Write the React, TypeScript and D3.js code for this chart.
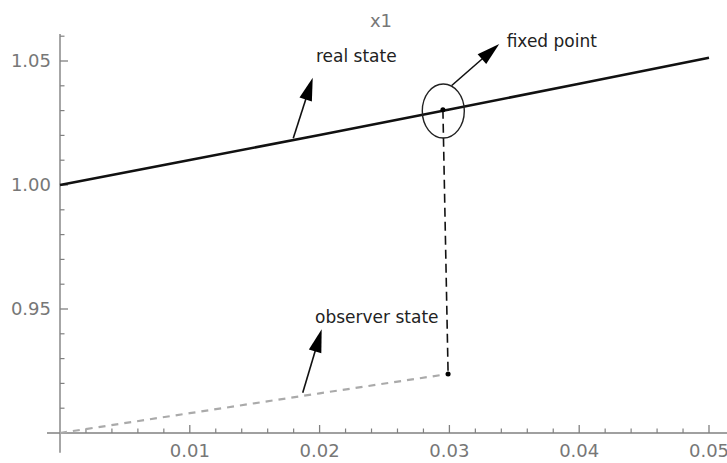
import React from 'react';
import * as d3 from 'd3';

// real state x1(t) and observer state
const realT = [0, 0.01, 0.02, 0.03, 0.04, 0.05];
const realX = [1.0, 1.01005, 1.0202, 1.03045, 1.04081, 1.05127];
const obsT = [0, 0.01, 0.02, 0.0299];
const obsX = [0.9, 0.908, 0.916, 0.9238];

const xMajor = [0.01, 0.02, 0.03, 0.04, 0.05];
const xLabels = ['0.01', '0.02', '0.03', '0.04', '0.05'];
const yMajor = [0.95, 1.0, 1.05];
const yLabels = ['0.95', '1.00', '1.05'];

// fixed point marker: top on real state, bottom on observer state
const fixedTop = [0.0295, 1.0303];
const fixedBottom = [0.0299, 0.9238];
const fixedCenter = [0.02953, 1.02984];

// annotations: [label, labelT, labelX, arrowFromT, arrowFromX, arrowToT, arrowToX]
const notes: [string, number, number, number, number, number, number][] = [
  ['real state', 0.01972, 1.04972, 0.01797, 1.01883, 0.01947, 1.04327],
  ['fixed point', 0.03441, 1.05577, 0.03018, 1.04012, 0.03384, 1.05685],
  ['observer state', 0.01965, 0.94448, 0.0187, 0.91625, 0.02016, 0.94181],
];

const W = 727;
const H = 463;
const font = '"DejaVu Sans", sans-serif';
const axisColor = '#808080';
const labelColor = '#777';

export default function App() {
  const x = d3.scaleLinear().domain([0, 0.05]).range([60, 709]);
  const y = d3.scaleLinear().domain([0.9, 1.05]).range([433, 61]);

  const line = d3
    .line<[number, number]>()
    .x((d) => x(d[0]))
    .y((d) => y(d[1]));

  const realPts = realT.map((t, i) => [t, realX[i]] as [number, number]);
  const obsPts = obsT.map((t, i) => [t, obsX[i]] as [number, number]);

  const xMinor = d3.range(1, 26).map((i) => i * 0.002).filter((t) => !xMajor.some((m) => Math.abs(m - t) < 1e-9));
  const yMinor = d3.range(91, 107).map((i) => i / 100).filter((v) => !yMajor.some((m) => Math.abs(m - v) < 1e-9) && v > 0.905);

  const x0 = x(0);
  const yBase = y(0.9);

  const arrow = (x1: number, y1: number, x2: number, y2: number, key: string) => {
    const ang = Math.atan2(y2 - y1, x2 - x1);
    const len = 23;
    const hw = 6.5;
    const bx = x2 - len * Math.cos(ang);
    const by = y2 - len * Math.sin(ang);
    const px = -Math.sin(ang) * hw;
    const py = Math.cos(ang) * hw;
    return (
      <g key={key}>
        <line x1={x1} y1={y1} x2={bx + 4 * Math.cos(ang)} y2={by + 4 * Math.sin(ang)} stroke="#111" strokeWidth={1.6} />
        <path d={`M${x2},${y2}L${bx + px},${by + py}L${bx - px},${by - py}Z`} fill="#000" />
      </g>
    );
  };

  return (
    <svg width={W} height={H} style={{ position: 'absolute', left: 0, top: 0, background: '#fff' }}>
      <rect width={W} height={H} fill="#fff" />
      {/* axes */}
      <line x1={x(-0.001)} x2={W} y1={yBase} y2={yBase} stroke={axisColor} strokeWidth={1.4} />
      <line x1={x0} x2={x0} y1={y(1.0609)} y2={y(0.892)} stroke={axisColor} strokeWidth={1.4} />
      {xMajor.map((t) => (
        <line key={'xM' + t} x1={x(t)} x2={x(t)} y1={yBase} y2={yBase - 8} stroke={axisColor} strokeWidth={1.3} />
      ))}
      {xMinor.map((t) => (
        <line key={'xm' + t} x1={x(t)} x2={x(t)} y1={yBase} y2={yBase - 4.5} stroke={axisColor} strokeWidth={1.2} />
      ))}
      {yMajor.map((v) => (
        <line key={'yM' + v} x1={x0} x2={x0 + 8} y1={y(v)} y2={y(v)} stroke={axisColor} strokeWidth={1.3} />
      ))}
      {yMinor.map((v) => (
        <line key={'ym' + v} x1={x0} x2={x0 + 4.5} y1={y(v)} y2={y(v)} stroke={axisColor} strokeWidth={1.2} />
      ))}
      {xMajor.map((t, i) => (
        <text key={'xl' + t} x={x(t)} y={yBase + 24} textAnchor="middle" fontFamily={font} fontSize={18} fill={labelColor}>
          {xLabels[i]}
        </text>
      ))}
      {yMajor.map((v, i) => (
        <text key={'yl' + v} x={x0 - 9} y={y(v)} dy="0.36em" textAnchor="end" fontFamily={font} fontSize={18} fill={labelColor}>
          {yLabels[i]}
        </text>
      ))}
      <text x={381} y={27} textAnchor="middle" fontFamily={font} fontSize={18} fill="#777">
        x1
      </text>

      {/* series */}
      <path d={line(obsPts) ?? ''} fill="none" stroke="#aaa" strokeWidth={2.2} strokeDasharray="7,6" />
      <path d={line(realPts) ?? ''} fill="none" stroke="#111" strokeWidth={2.6} />

      {/* fixed point */}
      <line
        x1={x(fixedTop[0])}
        y1={y(fixedTop[1])}
        x2={x(fixedBottom[0])}
        y2={y(fixedBottom[1])}
        stroke="#111"
        strokeWidth={1.6}
        strokeDasharray="9,5"
      />
      <circle cx={x(fixedTop[0])} cy={y(fixedTop[1])} r={2.5} fill="#000" />
      <circle cx={x(fixedBottom[0])} cy={y(fixedBottom[1])} r={2.5} fill="#000" />
      <ellipse cx={x(fixedCenter[0])} cy={y(fixedCenter[1])} rx={21} ry={27} fill="none" stroke="#222" strokeWidth={1.4} />

      {/* annotations */}
      {notes.map(([label, lt, lv, ft, fv, tt, tv]) => (
        <g key={label}>
          {arrow(x(ft), y(fv), x(tt), y(tv), label + 'a')}
          <text x={x(lt)} y={y(lv)} fontFamily={font} fontSize={17} fill="#222">
            {label}
          </text>
        </g>
      ))}
    </svg>
  );
}
